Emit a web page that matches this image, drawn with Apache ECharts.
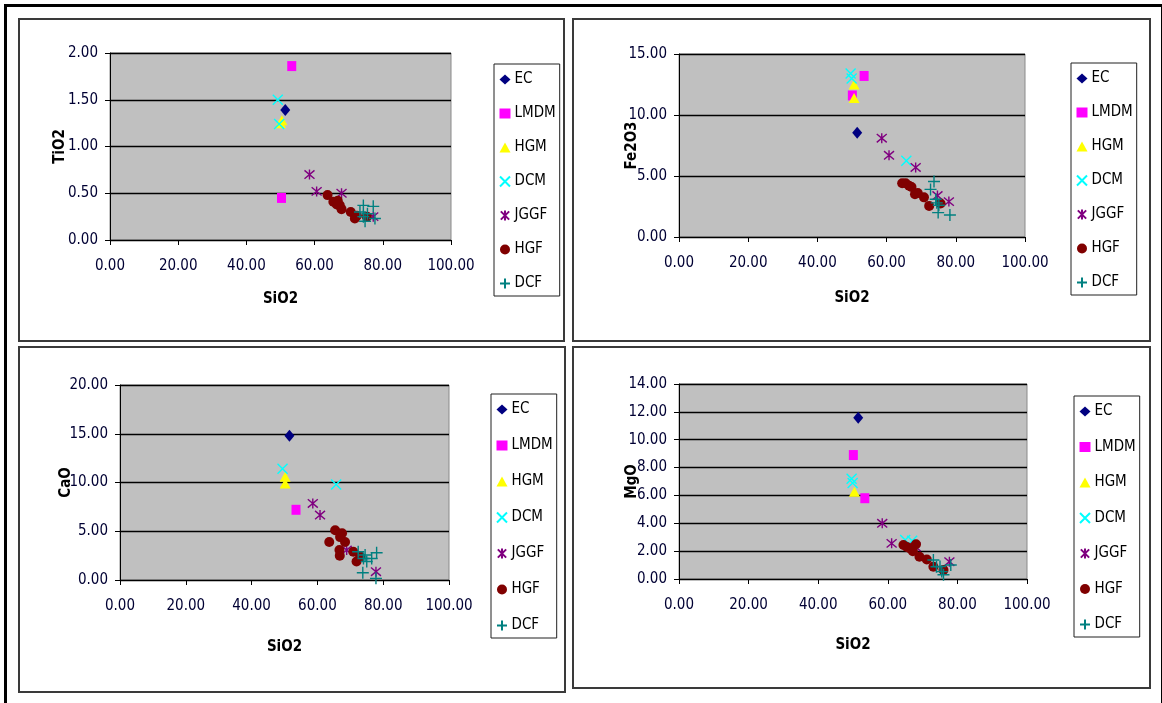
<!DOCTYPE html>
<html>
<head>
<meta charset="utf-8">
<script src="https://cdn.jsdelivr.net/npm/echarts@6/dist/echarts.min.js"></script>
<style>
  html, body { margin: 0; padding: 0; background: #fff; }
  body { width: 1162px; height: 703px; position: relative; overflow: hidden; }
  #frame {
    position: absolute; left: 4px; top: 4px; width: 1154px; height: 720px;
    border: 3px solid #000;
  }
  .panel {
    position: absolute; box-sizing: border-box;
    border: 2px solid #3a3a3a; background: #fff;
  }
</style>
</head>
<body>
<div id="frame"></div>
<div class="panel" id="p1" style="left:18px;top:18px;width:547px;height:324px"></div>
<div class="panel" id="p2" style="left:572px;top:18px;width:579px;height:324px"></div>
<div class="panel" id="p3" style="left:18px;top:346px;width:548px;height:347px"></div>
<div class="panel" id="p4" style="left:572px;top:346px;width:579px;height:343px"></div>
<script>
// series names and x axis ticks
const names = ["EC", "LMDM", "HGM", "DCM", "JGGF", "HGF", "DCF"];
const xTicks = [0, 20, 40, 60, 80, 100];

// TiO2 vs SiO2
const tiEC = [[51.4, 1.39]];
const tiLMDM = [[53.3, 1.86], [50.3, 0.45]];
const tiHGM = [[50.0, 1.25], [50.4, 1.28]];
const tiDCM = [[49.2, 1.50], [49.6, 1.24]];
const tiJGGF = [[58.5, 0.70], [60.6, 0.52], [67.9, 0.50], [77.2, 0.25]];
const tiHGF = [[63.8, 0.48], [65.5, 0.41], [66.5, 0.38], [67.4, 0.37], [67.9, 0.33], [66.8, 0.42],
  [70.6, 0.30], [71.8, 0.23], [72.4, 0.26], [75.3, 0.25]];
const tiDCF = [[74.3, 0.37], [74.3, 0.25], [77.2, 0.36], [77.7, 0.23], [73.3, 0.30], [74.8, 0.20], [75.5, 0.28]];

// Fe2O3 vs SiO2
const feEC = [[51.5, 8.55]];
const feLMDM = [[53.5, 13.2], [50.1, 11.6]];
const feHGM = [[50.6, 12.5], [50.6, 11.4]];
const feDCM = [[49.6, 13.4], [49.9, 13.0], [65.7, 6.25]];
const feJGGF = [[58.6, 8.1], [60.7, 6.7], [68.4, 5.7], [74.7, 3.4], [78.0, 2.9]];
const feHGF = [[64.5, 4.4], [65.5, 4.4], [66.5, 4.2], [67.2, 4.1], [68.2, 3.5], [69.0, 3.6],
  [70.8, 3.25], [72.3, 2.55], [75.6, 2.75]];
const feDCF = [[73.7, 4.55], [72.7, 3.9], [74.2, 3.1], [75.1, 2.6], [74.9, 2.0], [78.3, 1.8], [74.5, 2.8]];

// CaO vs SiO2
const caEC = [[51.5, 14.8]];
const caLMDM = [[53.5, 7.2]];
const caHGM = [[50.2, 10.6], [50.2, 9.9]];
const caDCM = [[49.4, 11.4], [65.7, 9.8]];
const caJGGF = [[58.6, 7.85], [60.8, 6.66], [68.9, 3.07], [77.8, 0.85]];
const caHGF = [[65.4, 5.1], [63.6, 3.9], [66.9, 4.4], [68.4, 3.9], [66.7, 3.07], [66.8, 2.5],
  [70.9, 2.9], [71.9, 1.9], [73.0, 2.4], [67.5, 4.8]];
const caDCF = [[72.4, 2.9], [74.5, 2.56], [75.0, 1.9], [78.0, 2.8], [73.8, 0.75], [76.5, 2.2], [77.8, 0.17], [74.0, 2.2]];

// MgO vs SiO2
const mgEC = [[51.5, 11.58]];
const mgLMDM = [[50.1, 8.9], [53.4, 5.8]];
const mgHGM = [[50.4, 6.27]];
const mgDCM = [[49.6, 7.2], [49.9, 6.9], [65.0, 2.8], [67.0, 2.75]];
const mgJGGF = [[58.4, 4.0], [61.1, 2.56], [68.0, 2.3], [77.7, 1.24]];
const mgHGF = [[64.5, 2.44], [65.5, 2.3], [66.4, 2.2], [67.2, 2.0], [68.1, 2.5], [69.1, 1.6],
  [71.2, 1.4], [73.1, 0.88], [76.0, 0.65]];
const mgDCF = [[73.1, 1.36], [74.0, 0.88], [75.5, 0.53], [78.1, 1.0], [76.0, 0.3], [75.0, 0.9]];

const FONT = "'DejaVu Sans Condensed', 'Liberation Sans', Arial, sans-serif";
const CROSS = "path://M0,0L10,10M10,0L0,10";
const STAR = "path://M0,0L10,10M10,0L0,10M5,-1L5,11";
const PLUS = "path://M5,0L5,10M0,5L10,5";

// marker style for each series (Excel 2003 defaults)
const markers = {
  EC: { symbol: "diamond", size: [10, 12], fill: "#000080" },
  LMDM: { symbol: "rect", size: [9, 10], fill: "#FF00FF" },
  HGM: { symbol: "triangle", size: [11, 10], fill: "#FFFF00" },
  DCM: { symbol: CROSS, size: 10, stroke: "#00FFFF" },
  JGGF: { symbol: STAR, size: 10, stroke: "#800080" },
  HGF: { symbol: "circle", size: 10, fill: "#800000" },
  DCF: { symbol: PLUS, size: 12, stroke: "#008080" }
};

function makeSeries(name, data) {
  let m = markers[name];
  let itemStyle = m.stroke
    ? { color: "rgba(0,0,0,0)", borderColor: m.stroke, borderWidth: 1.4, opacity: 1 }
    : { color: m.fill, opacity: 1 };
  return {
    name: name,
    type: "scatter",
    data: data,
    symbol: m.symbol,
    symbolSize: m.size,
    itemStyle: itemStyle,
    emphasis: { disabled: true }
  };
}

function panel(id, cfg) {
  let chart = echarts.init(document.getElementById(id), null, { renderer: "canvas" });
  let labelStyle = { color: "#000033", fontFamily: FONT, fontSize: 15 };
  let nameStyle = { fontFamily: FONT, fontSize: 15, fontWeight: "bold", color: "#000" };
  chart.setOption({
    animation: false,
    grid: {
      left: cfg.grid[0], top: cfg.grid[1], width: cfg.grid[2], height: cfg.grid[3],
      show: true, backgroundColor: "#C0C0C0", borderColor: "#8a8a8a", borderWidth: 1
    },
    legend: {
      orient: "vertical",
      left: cfg.legend[0], top: cfg.legend[1],
      itemGap: cfg.legend[2], itemWidth: 11, itemHeight: 10,
      padding: [8, 4, 5, 5],
      borderColor: "#202020", borderWidth: 1,
      textStyle: { color: "#000", fontFamily: FONT, fontSize: 15, lineHeight: 15, padding: [0, 0, 0, -1] },
      data: names
    },
    xAxis: {
      type: "value", min: 0, max: 100, interval: xTicks[1] - xTicks[0],
      name: "SiO2", nameLocation: "middle", nameGap: cfg.xGap, nameMoveOverlap: false,
      nameTextStyle: nameStyle,
      axisLine: { show: true, lineStyle: { color: "#000", width: 1 } },
      axisTick: { show: true, inside: false, length: 5, lineStyle: { color: "#000" } },
      axisLabel: Object.assign({ margin: 19, formatter: v => v.toFixed(2) }, labelStyle),
      splitLine: { show: false }
    },
    yAxis: {
      type: "value", min: 0, max: cfg.yMax, interval: cfg.yStep,
      name: cfg.yName, nameLocation: "middle", nameGap: cfg.yGap, nameRotate: 90, nameMoveOverlap: false,
      nameTextStyle: nameStyle,
      axisLine: { show: true, lineStyle: { color: "#000", width: 1 } },
      axisTick: { show: true, inside: false, length: 5, lineStyle: { color: "#000" } },
      axisLabel: Object.assign({ margin: 12, formatter: v => v.toFixed(2) }, labelStyle),
      splitLine: { show: true, lineStyle: { color: "#000", width: 1.3 } }
    },
    series: names.map((n, i) => makeSeries(n, cfg.data[i]))
  });
}

panel("p1", {
  yName: "TiO2", yMax: 2, yStep: 0.5, yGap: 42, xGap: 52,
  grid: [90, 33, 341, 187], legend: [474, 44, 19],
  data: [tiEC, tiLMDM, tiHGM, tiDCM, tiJGGF, tiHGF, tiDCF]
});
panel("p2", {
  yName: "Fe2O3", yMax: 15, yStep: 5, yGap: 39, xGap: 54,
  grid: [105, 34, 346, 183], legend: [497, 43, 19],
  data: [feEC, feLMDM, feHGM, feDCM, feJGGF, feHGF, feDCF]
});
panel("p3", {
  yName: "CaO", yMax: 20, yStep: 5, yGap: 46, xGap: 60,
  grid: [100, 37, 329, 195], legend: [471, 46, 21],
  data: [caEC, caLMDM, caHGM, caDCM, caJGGF, caHGF, caDCF]
});
panel("p4", {
  yName: "MgO", yMax: 14, yStep: 2, yGap: 39, xGap: 59,
  grid: [105, 36, 348, 195], legend: [500, 48, 20.5],
  data: [mgEC, mgLMDM, mgHGM, mgDCM, mgJGGF, mgHGF, mgDCF]
});
</script>
</body>
</html>
